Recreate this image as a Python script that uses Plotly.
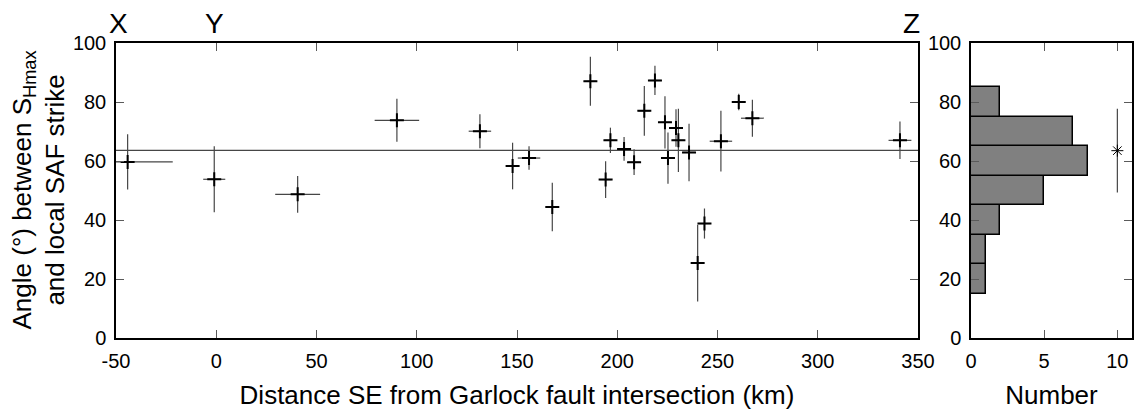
import plotly.graph_objects as go

# ---- data ----
distance_km = [-44.2, -1.0, 40.6, 90.1, 131.5, 147.8, 156.0, 167.6, 186.6, 194.2,
               196.6, 203.4, 208.4, 213.5, 218.8, 223.8, 225.3, 229.3, 230.5, 235.8,
               240.1, 243.5, 251.7, 260.6, 267.4, 341.0]
angle_deg = [59.7, 53.8, 48.7, 73.8, 70.1, 58.3, 61.0, 44.4, 87.0, 53.7,
             67.0, 64.1, 59.6, 77.0, 87.3, 73.1, 61.0, 71.2, 67.0, 62.9,
             25.4, 38.8, 66.7, 80.0, 74.5, 67.0]
angle_err = [9.4, 11.2, 6.2, 7.3, 5.75, 7.9, 4.0, 8.2, 8.3, 6.2,
             4.3, 4.05, 4.35, 8.45, 4.95, 8.85, 8.7, 6.35, 10.7, 9.75,
             13.0, 5.1, 10.3, 2.8, 6.25, 6.35]
dist_err = [22.5, 5.5, 11.2, 11.1, 5.6, 3.0, 5.6, 3.0, 3.0, 3.0,
            3.0, 3.0, 3.0, 3.0, 3.0, 3.0, 3.0, 3.0, 3.0, 3.0,
            3.0, 3.0, 5.6, 3.0, 5.7, 5.7]
mean_angle = 63.6

hist_centers = [20, 30, 40, 50, 60, 70, 80]
hist_counts = [1, 1, 2, 5, 8, 7, 2]
summary_x = 10
summary_mean = 63.5
summary_err = 14.2

x_range = [-50, 350]
y_range = [0, 100]
x_ticks = [-50, 0, 50, 100, 150, 200, 250, 300, 350]
x_tick_labels = ["-50", "0", "50", "100", "150", "200", "250", "300", "350"]
y_ticks = [0, 20, 40, 60, 80, 100]
hist_x_range = [0, 11]
hist_x_ticks = [0, 5, 10]

site_labels = ["X", "Y", "Z"]
site_label_x = [-49, -1, 347]

FONT = "Arial, Liberation Sans, sans-serif"
ERRC = "rgb(70,70,70)"

fig = go.Figure()

# mean line
fig.add_trace(go.Scatter(
    x=x_range, y=[mean_angle, mean_angle], mode="lines",
    line=dict(color=ERRC, width=1.2), hoverinfo="skip", showlegend=False,
    xaxis="x", yaxis="y"))

# data points with error bars
fig.add_trace(go.Scatter(
    x=distance_km, y=angle_deg, mode="markers",
    marker=dict(symbol="cross-thin", size=10, color="black",
                line=dict(color="black", width=2)),
    error_y=dict(type="data", array=angle_err, visible=True,
                 color=ERRC, thickness=1.2, width=0),
    error_x=dict(type="data", array=dist_err, visible=True,
                 color=ERRC, thickness=1.2, width=0),
    showlegend=False, xaxis="x", yaxis="y"))

# histogram
fig.add_trace(go.Bar(
    x=hist_counts, y=hist_centers, orientation="h", width=10,
    marker=dict(color="#808080", line=dict(color="black", width=1.5)),
    showlegend=False, xaxis="x2", yaxis="y2"))

# summary star
fig.add_trace(go.Scatter(
    x=[summary_x], y=[summary_mean], mode="markers",
    marker=dict(symbol="asterisk-open", size=10, color="black",
                line=dict(color="black", width=1)),
    error_y=dict(type="data", array=[summary_err], visible=True,
                 color=ERRC, thickness=1.2, width=0),
    showlegend=False, xaxis="x2", yaxis="y2"))

axis_common = dict(
    showgrid=False, zeroline=False, showline=True, linecolor="black",
    linewidth=1.5, mirror="ticks", ticks="inside", ticklen=8,
    tickcolor="rgb(90,90,90)", tickwidth=1.2, automargin=False,
    tickfont=dict(family=FONT, size=20, color="black"),
)

L, R, T, B = 116, 6, 43, 78
W, H = 1138, 416
pw = W - L - R
main_end = (918 - L) / pw
hist_start = (971 - L) / pw

fig.update_layout(
    template="none",
    width=W, height=H, autosize=False,
    margin=dict(l=L, r=R, t=T, b=B, pad=0),
    paper_bgcolor="white", plot_bgcolor="white",
    font=dict(family=FONT, size=20, color="black"),
    bargap=0,
    xaxis=dict(domain=[0, main_end], range=x_range, tickvals=x_ticks,
               ticktext=x_tick_labels, ticklabelstandoff=4,
               title=dict(text="Distance SE from Garlock fault intersection (km)",
                          font=dict(family=FONT, size=26), standoff=15),
               **axis_common),
    yaxis=dict(domain=[0, 1], range=y_range, tickvals=y_ticks,
               ticklabelstandoff=4, **axis_common),
    xaxis2=dict(domain=[hist_start, 1], range=hist_x_range, tickvals=hist_x_ticks,
                anchor="y2", ticklabelstandoff=4,
                title=dict(text="Number", font=dict(family=FONT, size=26), standoff=15),
                **axis_common),
    yaxis2=dict(domain=[0, 1], range=y_range, tickvals=y_ticks, anchor="x2",
                ticklabelstandoff=4, **axis_common),
)

# y axis title as annotation (two lines, subscript)
fig.add_annotation(
    text="Angle (°) between S<sub>Hmax</sub><br>and local SAF strike",
    xref="paper", yref="paper", x=-L / pw + 38 / pw, y=0.5,
    xanchor="center", yanchor="middle", textangle=-90, showarrow=False,
    font=dict(family=FONT, size=26, color="black"))

# site labels above main plot
for lab, lx in zip(site_labels, site_label_x):
    fig.add_annotation(text=lab, x=lx, xref="x", y=1, yref="paper",
                       yanchor="bottom", yshift=2, showarrow=False,
                       font=dict(family=FONT, size=28, color="black"))

fig.write_html("out.html")
